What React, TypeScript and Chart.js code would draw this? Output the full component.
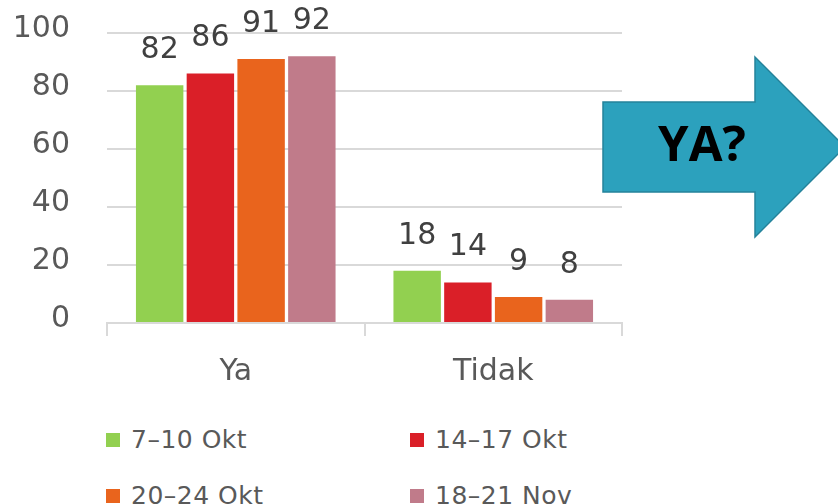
import React, { useEffect, useRef } from "react";
import { Chart, registerables } from "chart.js";

Chart.register(...registerables);

const categories = ["Ya", "Tidak"];
const seriesNames = ["7–10 Okt", "14–17 Okt", "20–24 Okt", "18–21 Nov"];
const series1 = [82, 18];
const series2 = [86, 14];
const series3 = [91, 9];
const series4 = [92, 8];
const seriesValues = [series1, series2, series3, series4];
const seriesColors = ["#92d050", "#da1f28", "#e9641d", "#c07b8a"];
const yMin = 0;
const yMax = 100;
const yStep = 20;
const calloutText = "YA?";

const FONT = '"DejaVu Sans", Verdana, sans-serif';
const GRID = "#d9d9d9";
const TEXT = "#595959";

const valueLabelPlugin = {
  id: "valueLabels",
  afterDatasetsDraw(chart: any) {
    const ctx = chart.ctx;
    ctx.save();
    ctx.font = `30px ${FONT}`;
    ctx.fillStyle = "#404040";
    ctx.textAlign = "center";
    ctx.textBaseline = "middle";
    chart.data.datasets.forEach((ds: any, i: number) => {
      const meta = chart.getDatasetMeta(i);
      meta.data.forEach((el: any, j: number) => {
        ctx.fillText(String(ds.data[j]), el.x, el.y - 35);
      });
    });
    ctx.restore();
  },
};

export default function App() {
  const canvasRef = useRef<HTMLCanvasElement | null>(null);

  useEffect(() => {
    const canvas = canvasRef.current;
    if (!canvas) return;
    const chart = new Chart(canvas, {
      type: "bar",
      data: {
        labels: categories,
        datasets: seriesValues.map((vals, i) => ({
          label: seriesNames[i],
          data: vals,
          backgroundColor: seriesColors[i],
          borderWidth: 0,
          categoryPercentage: 0.788,
          barPercentage: 0.935,
        })),
      },
      options: {
        responsive: false,
        animation: false,
        devicePixelRatio: 1,
        layout: { padding: { top: 33, right: 216, left: 0, bottom: 0 } },
        plugins: {
          legend: { display: false },
          tooltip: { enabled: false },
        },
        scales: {
          x: {
            grid: {
              display: true,
              drawOnChartArea: false,
              drawTicks: true,
              tickLength: 13,
              color: GRID,
              lineWidth: 2,
              offset: true,
            },
            border: { display: true, color: GRID, width: 2 },
            ticks: { font: { family: FONT, size: 30 }, color: TEXT, padding: 18 },
            afterFit: (s: any) => {
              s.height = 77;
            },
          },
          y: {
            min: yMin,
            max: yMax,
            ticks: {
              stepSize: yStep,
              padding: 37,
              font: { family: FONT, size: 30 },
              color: TEXT,
              labelOffset: -4,
            },
            grid: { color: GRID, lineWidth: 2, drawTicks: false },
            border: { display: false },
            afterFit: (s: any) => {
              s.width = 107;
              s.paddingTop = 0;
              s.paddingBottom = 0;
            },
          },
        },
      } as any,
      plugins: [valueLabelPlugin],
    });
    return () => chart.destroy();
  }, []);

  const legendPos = [
    { sq: 106, tx: 131, cy: 440 },
    { sq: 410, tx: 435, cy: 440 },
    { sq: 106, tx: 131, cy: 496 },
    { sq: 410, tx: 435, cy: 496 },
  ];

  return (
    <div
      style={{
        position: "absolute",
        left: 0,
        top: 0,
        width: 838,
        height: 504,
        overflow: "hidden",
        background: "#ffffff",
      }}
    >
      <canvas
        ref={canvasRef}
        width={838}
        height={400}
        style={{ position: "absolute", left: 0, top: 0, width: 838, height: 400 }}
      />
      {seriesNames.map((name, i) => (
        <React.Fragment key={name}>
          <div
            style={{
              position: "absolute",
              left: legendPos[i].sq,
              top: legendPos[i].cy - 7,
              width: 14,
              height: 14,
              background: seriesColors[i],
            }}
          />
          <div
            style={{
              position: "absolute",
              left: legendPos[i].tx,
              top: legendPos[i].cy - 16,
              height: 32,
              lineHeight: "32px",
              fontFamily: FONT,
              fontSize: 25,
              letterSpacing: "0.5px",
              color: TEXT,
              whiteSpace: "nowrap",
            }}
          >
            {name}
          </div>
        </React.Fragment>
      ))}
      <svg
        width={838}
        height={504}
        style={{ position: "absolute", left: 0, top: 0, pointerEvents: "none" }}
      >
        <polygon
          points="603,102 755,102 755,57 845,147 755,237 755,192 603,192"
          fill="#2ca1bd"
          stroke="#24829a"
          strokeWidth={1.5}
        />
        <text
          x={702}
          y={161}
          textAnchor="middle"
          fontFamily='"Open Sans", sans-serif'
          fontWeight={700}
          fontSize={49}
          fill="#000000"
        >
          {calloutText}
        </text>
      </svg>
    </div>
  );
}
